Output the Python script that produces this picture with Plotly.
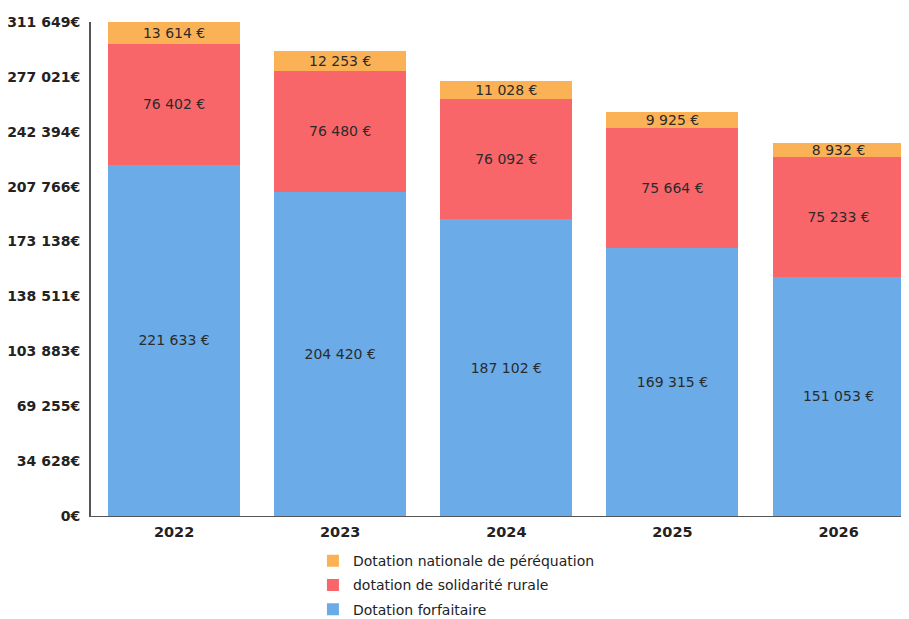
import plotly.graph_objects as go

years = ["2022", "2023", "2024", "2025", "2026"]
forfaitaire = [221633, 204420, 187102, 169315, 151053]
solidarite = [76402, 76480, 76092, 75664, 75233]
perequation = [13614, 12253, 11028, 9925, 8932]
names = ["Dotation forfaitaire", "dotation de solidarité rurale", "Dotation nationale de péréquation"]
ranks = [3, 2, 1]
colors = ["#6aabe8", "#f9666a", "#fbb257"]
tick_vals = [0, 34628, 69255, 103883, 138511, 173138, 207766, 242394, 277021, 311649]


def fmt(v):
    return f"{v:,}".replace(",", " ")


fig = go.Figure()
for name, vals, col, rk in zip(names, [forfaitaire, solidarite, perequation], colors, ranks):
    fig.add_trace(go.Bar(
        x=years, y=vals, name=name, legendgroup=name, legendrank=rk,
        marker=dict(color=col, line=dict(width=0)),
        text=[fmt(v) + " €" for v in vals],
        textposition="inside", insidetextanchor="middle",
        textfont=dict(family="DejaVu Sans", size=14, color="#2b2b2b"),
        width=0.795,
    ))

fig.update_layout(
    barmode="stack",
    width=909, height=660,
    margin=dict(l=83, r=7, t=14, b=152),
    paper_bgcolor="white", plot_bgcolor="white",
    font=dict(family="DejaVu Sans", color="#222222"),
    uniformtext=dict(mode="show", minsize=14),
    showlegend=True,
    legend=dict(
        orientation="v", traceorder="grouped", tracegroupgap=3,
        x=0.271, xanchor="left", y=-0.059, yanchor="top",
        font=dict(size=14, color="#222222"),
    ),
    xaxis=dict(
        range=[-0.5, 4.43], showgrid=False, showline=True, linecolor="#555555", linewidth=1,
        tickfont=dict(size=14.5, color="#222222", family="DejaVu Sans", weight="bold"),
        ticks="", fixedrange=True, automargin=False, ticklabelstandoff=3,
    ),
    yaxis=dict(
        range=[0, 311649], tickvals=tick_vals,
        ticktext=[fmt(v) + "€" for v in tick_vals],
        showgrid=False, zeroline=False, showline=True, linecolor="#555555", linewidth=2,
        tickfont=dict(size=14, color="#222222", family="DejaVu Sans", weight="bold"),
        ticks="", ticklabelstandoff=6, automargin=False,
    ),
)

fig.write_html("out.html")
